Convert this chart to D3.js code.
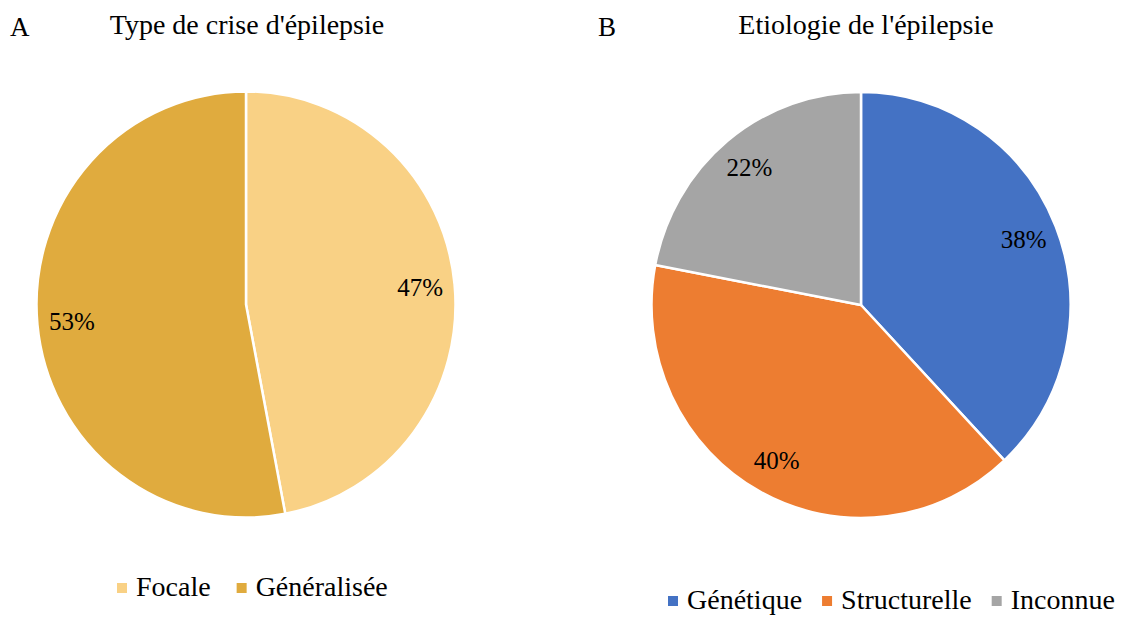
<!DOCTYPE html>
<html><head><meta charset="utf-8">
<script src="https://cdn.jsdelivr.net/npm/d3@7"></script>
<style>body{margin:0;background:#fff}svg{display:block}</style>
</head><body>
<svg id="c" width="1127" height="617"></svg>
<script>
const catsA = ["Focale","Généralisée"];
const valsA = [47,53];
const colorsA = ["#F9D185","#E0AB3E"];
const catsB = ["Génétique","Structurelle","Inconnue"];
const valsB = [38,40,22];
const colorsB = ["#4472C4","#ED7D31","#A5A5A5"];

const FONT = "Liberation Serif, Times New Roman, DejaVu Serif, serif";
const svg = d3.select("#c");
const sy = 1.017;

function drawPie(cx, cy, r, cats, vals, colors, letter, lx, title, titleX, legY, legX, gap) {
  const g = svg.append("g").attr("transform",`translate(${cx},${cy}) scale(1,${sy})`);
  const pie = d3.pie().sort(null).value(d=>d)(vals);
  const arc = d3.arc().innerRadius(0).outerRadius(r);
  g.selectAll("path").data(pie).join("path")
    .attr("d",arc).attr("fill",(d,i)=>colors[i])
    .attr("stroke","#fff").attr("stroke-width",2.5).attr("stroke-linejoin","round");
  const lab = d3.arc().innerRadius(r*0.835).outerRadius(r*0.835);
  svg.selectAll(null).data(pie).join("text")
    .attr("x",d=>cx+lab.centroid(d)[0]).attr("y",d=>cy+lab.centroid(d)[1]*sy)
    .attr("text-anchor","middle").attr("dominant-baseline","central")
    .attr("font-family",FONT).attr("font-size",25).text(d=>d.data+"%");
  svg.append("text").attr("x",lx).attr("y",36).attr("font-family",FONT).attr("font-size",27).text(letter);
  svg.append("text").attr("x",titleX).attr("y",34).attr("text-anchor","middle").attr("font-family",FONT).attr("font-size",28).text(title);
  const lg = svg.append("g");
  let x = legX;
  cats.forEach((c,i)=>{
    lg.append("rect").attr("x",x).attr("y",legY-13).attr("width",10).attr("height",10).attr("fill",colors[i]);
    const t = lg.append("text").attr("x",x+19).attr("y",legY).attr("font-family",FONT).attr("font-size",28).text(c);
    x += 19 + t.node().getComputedTextLength() + gap;
  });
}
drawPie(246, 304.5, 209.5, catsA, valsA, colorsA, "A", 10, "Type de crise d'épilepsie", 247, 596, 117, 26);
drawPie(861, 305, 209.5, catsB, valsB, colorsB, "B", 598, "Etiologie de l'épilepsie", 866, 609, 668, 20);
</script>
</body></html>
